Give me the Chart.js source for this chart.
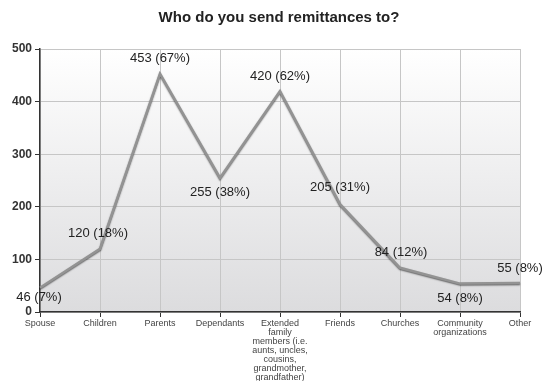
<!DOCTYPE html>
<html>
<head>
<meta charset="utf-8">
<script src="https://cdn.jsdelivr.net/npm/chart.js@4/dist/chart.umd.min.js"></script>
<style>
html,body{margin:0;padding:0;background:#fff;}
#wrap{width:546px;height:381px;position:relative;}
</style>
</head>
<body>
<div id="wrap"><canvas id="c" width="546" height="381"></canvas></div>
<script>
const categories = [
  "Spouse",
  "Children",
  "Parents",
  "Dependants",
  ["Extended","family","members (i.e.","aunts, uncles,","cousins,","grandmother,","grandfather)"],
  "Friends",
  "Churches",
  ["Community","organizations"],
  "Other"
];
const counts = [46, 120, 453, 255, 420, 205, 84, 54, 55];
const percents = [7, 18, 67, 38, 62, 31, 12, 8, 8];
const yTicks = [0, 100, 200, 300, 400, 500];
const titleText = 'Who do you send remittances to?';

// label placement (style only)
const labelDx = [-1, -2, 0, 0, 0, 0, 1, 0, 0];
const labelDy = [10, -15, -15, 15, -15, -17, -15, 15, -15];

const bgPlugin = {
  id: 'bg',
  beforeDraw(chart) {
    const {ctx, chartArea: a} = chart;
    const g = ctx.createLinearGradient(0, a.top, 0, a.bottom);
    g.addColorStop(0, '#ffffff');
    g.addColorStop(1, '#dcdcde');
    ctx.save();
    ctx.fillStyle = g;
    ctx.fillRect(a.left, a.top, a.right - a.left, a.bottom - a.top);
    ctx.font = 'bold 15px "Liberation Sans", Arial, sans-serif';
    ctx.fillStyle = '#222';
    ctx.textAlign = 'center';
    ctx.textBaseline = 'middle';
    ctx.fillText(titleText, 279, 18);
    ctx.restore();
  }
};

const shadowPlugin = {
  id: 'lineShadow',
  beforeDatasetDraw(chart) {
    const ctx = chart.ctx;
    ctx.save();
    ctx.shadowColor = 'rgba(0,0,0,0.55)';
    ctx.shadowBlur = 1.5;
    ctx.shadowOffsetX = 0;
    ctx.shadowOffsetY = 1;
  },
  afterDatasetDraw(chart) {
    chart.ctx.restore();
  }
};

const labelPlugin = {
  id: 'pointLabels',
  afterDatasetsDraw(chart) {
    const {ctx} = chart;
    const meta = chart.getDatasetMeta(0);
    ctx.save();
    ctx.font = '13px "Liberation Sans", Arial, sans-serif';
    ctx.fillStyle = '#222';
    ctx.textAlign = 'center';
    ctx.textBaseline = 'middle';
    meta.data.forEach((pt, i) => {
      const txt = counts[i] + ' (' + percents[i] + '%)';
      ctx.fillText(txt, pt.x + labelDx[i], pt.y + labelDy[i]);
    });
    ctx.restore();
  }
};

new Chart(document.getElementById('c'), {
  type: 'line',
  data: {
    labels: categories,
    datasets: [{
      data: counts,
      borderColor: '#939393',
      borderWidth: 2.5,
      pointRadius: 0,
      tension: 0,
      fill: false
    }]
  },
  options: {
    responsive: false,
    animation: false,
    devicePixelRatio: 1,
    layout: { padding: { left: 0, right: 26, top: 49, bottom: 0 } },
    plugins: {
      legend: { display: false },
      tooltip: { enabled: false },
      title: { display: false }
    },
    scales: {
      x: {
        offset: false,
        grid: { color: '#c6c6c6', lineWidth: 1, tickLength: 5, tickColor: '#333', drawTicks: true },
        border: { color: '#333', width: 1.5 },
        ticks: {
          autoSkip: false,
          maxRotation: 0,
          minRotation: 0,
          padding: 2,
          color: '#444',
          font: { family: '"Liberation Sans", Arial, sans-serif', size: 9, lineHeight: 1.0 }
        },
        afterFit(s) { s.height = 69; }
      },
      y: {
        min: 0,
        max: 500,
        afterBuildTicks(s) { s.ticks = yTicks.map(v => ({value: v})); },
        grid: { color: '#c6c6c6', lineWidth: 1, tickLength: 5, tickColor: '#333' },
        border: { color: '#333', width: 1.5 },
        ticks: {
          padding: 3,
          color: '#333',
          font: { family: '"Liberation Sans", Arial, sans-serif', size: 12, weight: 'bold' }
        },
        afterFit(s) { s.width = 40; }
      }
    }
  },
  plugins: [bgPlugin, shadowPlugin, labelPlugin]
});
</script>
</body>
</html>
